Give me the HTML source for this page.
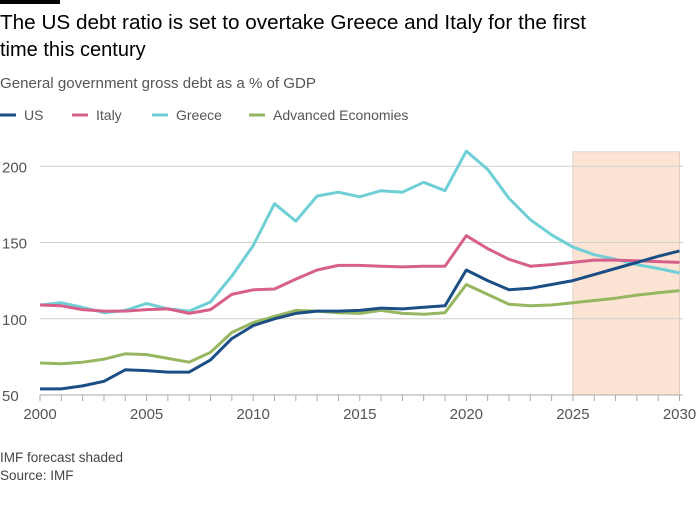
<!DOCTYPE html>
<html><head><meta charset="utf-8">
<style>
body{margin:0;background:#fff;width:700px;height:500px;overflow:hidden;font-family:"Liberation Sans",sans-serif;}
svg text{font-family:"Liberation Sans",sans-serif;}
</style></head>
<body>
<svg id="chart" width="700" height="500" xmlns="http://www.w3.org/2000/svg">
<rect x="0" y="0" width="60" height="4" fill="#000"/>
<text x="0" y="29" font-size="20" fill="#000" textLength="586" lengthAdjust="spacingAndGlyphs">The US debt ratio is set to overtake Greece and Italy for the first</text>
<text x="0" y="56" font-size="20" fill="#000">time this century</text>
<text x="0" y="88" font-size="14.5" fill="#555" textLength="316" lengthAdjust="spacingAndGlyphs">General government gross debt as a % of GDP</text>
<g id="legend"></g>
<g id="grid"></g>
<g id="series"></g>
<text x="0" y="462" font-size="13.5" fill="#444">IMF forecast shaded</text>
<text x="0" y="480" font-size="13.5" fill="#444">Source: IMF</text>
</svg>
<script>
const years=[2000,2001,2002,2003,2004,2005,2006,2007,2008,2009,2010,2011,2012,2013,2014,2015,2016,2017,2018,2019,2020,2021,2022,2023,2024,2025,2026,2027,2028,2029,2030];
const usValues=[54,54,56,59,66.5,66,65,65,73,87,95.5,100,103.5,105,105,105.5,107,106.5,107.5,108.5,132,125,119,120,122.5,125,129,133,137,141,144.5];
const italyValues=[109,108.5,106,105,105,106,106.5,103.5,106,116,119,119.5,126,132,135,135,134.5,134,134.5,134.5,154.5,146,139,134.5,135.5,137,138.5,138.5,138,137.5,137];
const greeceValues=[109,110.5,107.5,104,105.5,110,106.5,105,111,128,148,175.5,164,180.5,183,180,184,183,189.5,184,210,198,179,165,155,147,142,139,135.5,133,130];
const aeValues=[71,70.5,71.5,73.5,77,76.5,74,71.5,78,91,97.5,101.5,105.5,105,104,103.5,105.5,103.5,103,104,122.5,116,109.5,108.5,109,110.5,112,113.5,115.5,117,118.5];
const yTicks=[50,100,150,200];
const xTickLabels=[2000,2005,2010,2015,2020,2025,2030];
const forecastStart=2025, forecastEnd=2030;

const NS="http://www.w3.org/2000/svg";
const x=v=>40+(v-2000)*(679.5-40)/30;
const y=v=>395-(v-50)*(395-166.3)/150;
function mk(tag,attrs,parent){const e=document.createElementNS(NS,tag);for(const k in attrs)e.setAttribute(k,attrs[k]);parent.appendChild(e);return e;}
const grid=document.getElementById('grid'), ser=document.getElementById('series'), leg=document.getElementById('legend');

const shade=mk('rect',{x:x(forecastStart),y:y(209.5),width:x(forecastEnd)-x(forecastStart),height:395-y(209.5),fill:'#fde3d3',stroke:'#d9c7bc','stroke-width':0.8},grid);


yTicks.forEach(t=>{
  if(t>50){const l=mk('line',{x1:40,x2:683,y1:y(t),y2:y(t),stroke:'#cfcfcf','stroke-width':1},grid);
  
  }
  const tx=mk('text',{x:2,y:y(t)+6,'font-size':15,fill:'#555'},grid);tx.textContent=t;
  
  
});
const ax=mk('line',{x1:40,x2:683,y1:395,y2:395,stroke:'#aaa','stroke-width':1},grid);


years.forEach(yr=>{const t=mk('line',{x1:x(yr),x2:x(yr),y1:395,y2:401,stroke:'#aaa','stroke-width':1},grid);
  
  });
xTickLabels.forEach(v=>{const t=mk('text',{x:x(v),y:419,'font-size':15,fill:'#555','text-anchor':'middle'},grid);t.textContent=v;
  
  });

const series=[
 {name:'ae',label:'Advanced Economies',color:'#96b660',vals:aeValues},
 {name:'greece',label:'Greece',color:'#6fcfd6',vals:greeceValues},
 {name:'italy',label:'Italy',color:'#d6608a',vals:italyValues},
 {name:'us',label:'US',color:'#1c4e86',vals:usValues}];
series.forEach(s=>{
  const d=s.vals.map((v,i)=>(i?'L':'M')+x(years[i]).toFixed(1)+','+y(v).toFixed(1)).join('');
  const p=mk('path',{d:d,fill:'none',stroke:s.color,'stroke-width':3,'stroke-linejoin':'round'},ser);
  
  
});
const legItems=[{l:'US',c:'#1c4e86',x:0},{l:'Italy',c:'#d6608a',x:72},{l:'Greece',c:'#6fcfd6',x:152},{l:'Advanced Economies',c:'#96b660',x:249}];
legItems.forEach(it=>{
  const g=mk('g',{},leg);
  
  
  mk('line',{x1:it.x,x2:it.x+16,y1:115,y2:115,stroke:it.c,'stroke-width':3},g);
  const t=mk('text',{x:it.x+24,y:120,'font-size':14,fill:'#555'},g);t.textContent=it.l;
});
</script>
</body></html>
